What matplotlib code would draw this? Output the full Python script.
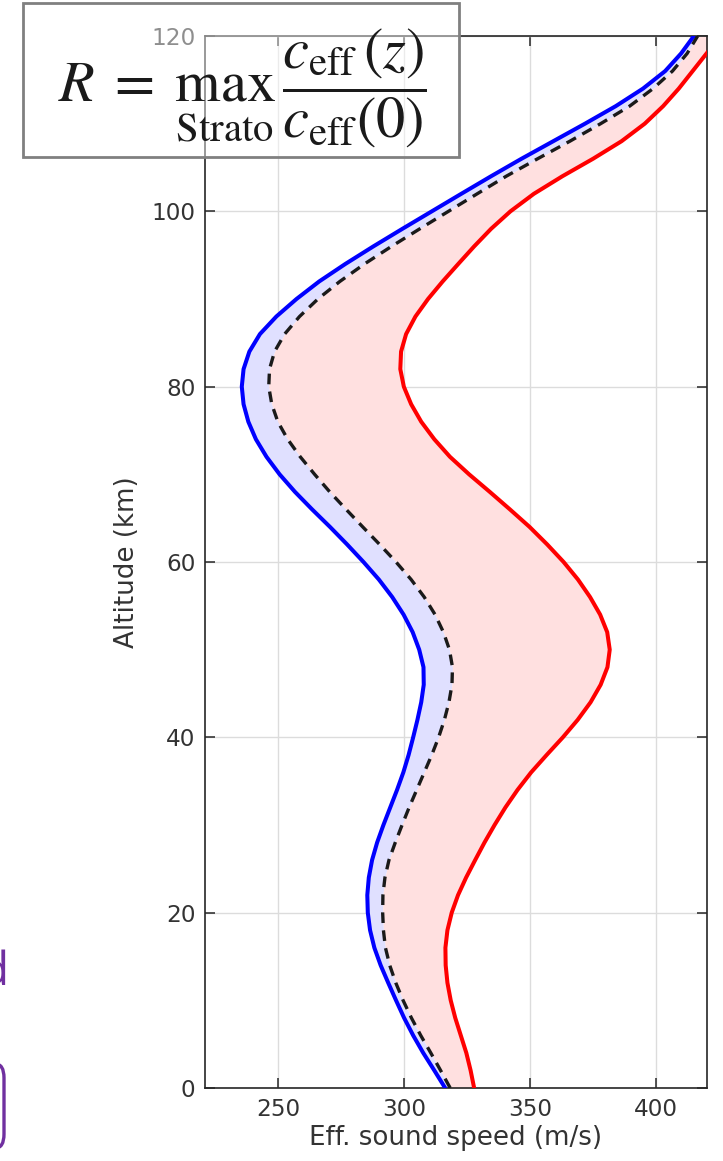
import matplotlib
matplotlib.use("Agg")
import matplotlib.pyplot as plt
from matplotlib.patches import Rectangle, FancyBboxPatch

# ---------------- data ----------------
altitude_km = [0, 2, 4, 6, 8, 10, 12, 14, 16, 18, 20, 22, 24, 26, 28, 30, 32, 34, 36, 38,
               40, 42, 44, 46, 48, 50, 52, 54, 56, 58, 60, 62, 64, 66, 68, 70, 72, 74, 76,
               78, 80, 82, 84, 86, 88, 90, 92, 94, 96, 98, 100, 102, 104, 106, 108, 110,
               112, 114, 116, 118, 120]

ceff_low = [316.3, 312.0, 307.6, 303.6, 300.0, 296.8, 293.7, 290.7, 288.2, 286.5, 285.6,
            285.4, 286.0, 287.3, 289.3, 291.8, 294.5, 297.2, 299.7, 301.8, 303.6, 305.3,
            306.8, 307.8, 307.7, 306.0, 303.4, 299.8, 295.3, 290.0, 283.9, 277.4, 270.6,
            263.5, 256.7, 250.6, 245.4, 241.2, 238.2, 236.3, 235.6, 236.3, 238.6, 242.8,
            249.3, 257.3, 266.3, 276.7, 287.8, 299.3, 311.0, 322.7, 334.5, 346.6, 359.2,
            371.8, 384.0, 394.8, 403.6, 409.9, 415.0]

ceff_mid = [318.3, 314.5, 310.6, 306.6, 302.9, 299.6, 296.7, 294.3, 292.6, 291.8, 291.5,
            291.6, 292.4, 294.0, 296.5, 299.2, 302.0, 305.0, 308.0, 311.0, 313.7, 316.0,
            317.8, 319.0, 319.2, 318.0, 315.6, 312.3, 308.0, 302.8, 296.8, 290.3, 283.6,
            277.0, 270.5, 264.5, 258.8, 253.8, 249.9, 247.5, 246.3, 246.6, 248.6, 252.6,
            258.5, 265.8, 274.5, 284.3, 295.0, 306.2, 317.6, 329.0, 340.5, 353.0, 365.8,
            378.0, 389.5, 398.8, 406.5, 412.3, 416.5]

ceff_high = [327.8, 326.4, 324.7, 322.5, 320.3, 318.5, 317.2, 316.5, 316.4, 317.2, 318.9,
             321.4, 324.6, 328.2, 331.9, 335.9, 340.2, 345.0, 350.4, 356.6, 363.0, 368.9,
             374.0, 378.0, 380.7, 381.6, 380.6, 377.8, 373.8, 369.0, 363.3, 356.8, 349.8,
             342.0, 334.0, 325.8, 318.2, 312.0, 306.8, 302.8, 299.9, 298.5, 298.8, 300.8,
             304.5, 309.5, 315.3, 321.5, 327.8, 334.5, 342.2, 351.5, 362.8, 375.0, 386.3,
             395.5, 402.8, 409.0, 414.5, 420.0, 425.5]

x_ticks = [250, 300, 350, 400]
y_ticks = [0, 20, 40, 60, 80, 100, 120]
x_label = "Eff. sound speed (m/s)"
y_label = "Altitude (km)"
equation = r"$R\;=\;\max_{\mathrm{Strato}}\,\dfrac{c_{\mathrm{eff}}(z)}{c_{\mathrm{eff}}(0)}$"

# ---------------- figure ----------------
W, H = 723, 1161
fig = plt.figure(figsize=(W / 100, H / 100), dpi=100)
plt.rcParams['mathtext.fontset'] = 'stix'

ax_l, ax_r, ax_t, ax_b = 205, 707, 36, 1088
ax = fig.add_axes([ax_l / W, (H - ax_b) / H, (ax_r - ax_l) / W, (ax_b - ax_t) / H])

ax.fill_betweenx(altitude_km, ceff_low, ceff_mid, color=(0.88, 0.88, 1.0), lw=0, zorder=1)
ax.fill_betweenx(altitude_km, ceff_mid, ceff_high, color=(1.0, 0.88, 0.88), lw=0, zorder=1)
ax.plot(ceff_low, altitude_km, color='#0000FF', lw=2.9, zorder=3,
        solid_joinstyle='round')
ax.plot(ceff_high, altitude_km, color='#FF0000', lw=2.9, zorder=3,
        solid_joinstyle='round')
ax.plot(ceff_mid, altitude_km, color='#1a1a1a', lw=2.4, linestyle=(0, (3.2, 2.2)),
        zorder=4)

ax.set_xlim(221, 420.2)
ax.set_ylim(0, 120)
ax.set_xticks(x_ticks)
ax.set_yticks(y_ticks)
ax.grid(True, color='#dcdcdc', lw=1.0, zorder=0)
ax.set_axisbelow(True)
ax.tick_params(direction='in', length=7, width=1.1, top=True, right=True,
               labelsize=16.7, color='#262626', labelcolor='#333333', pad=7)
for s in ax.spines.values():
    s.set_color('#262626')
    s.set_linewidth(1.2)
ax.set_xlabel(x_label, fontsize=18.8, color='#333333', labelpad=3)
ax.set_ylabel(y_label, fontsize=18.8, color='#333333', labelpad=8)

# equation box (overlapping the axes)
bx0, bx1, by0, by1 = 23, 459, 3, 157
rect = Rectangle((bx0 / W, 1 - by1 / H), (bx1 - bx0) / W, (by1 - by0) / H,
                 transform=fig.transFigure, facecolor=(1, 1, 1, 0.45),
                 edgecolor='#808080', lw=2.0, zorder=10)
fig.add_artist(rect)
fig.text(242 / W, 1 - 88 / H, equation, fontsize=42, color='#1a1a1a',
         ha='center', va='center', zorder=11)

# purple fragments at left edge
purple = '#7030A0'
fig.text(9 / W, 1 - 985 / H, "d", fontsize=33, color=purple, ha='right',
         va='baseline', family='Open Sans')
pbox = FancyBboxPatch((-150 / W, 1 - 1148 / H), (154 / W), (84 / H),
                      boxstyle="round,pad=0,rounding_size=0.012",
                      transform=fig.transFigure, facecolor='none',
                      edgecolor=purple, lw=2.4, zorder=10)
fig.add_artist(pbox)

fig.savefig("out.png", dpi=100)
